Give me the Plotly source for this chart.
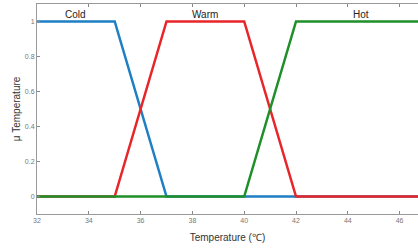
import plotly.graph_objects as go

cold_x = [32, 35, 37, 50]
cold_y = [1, 1, 0, 0]
warm_x = [32, 35, 37, 40, 42, 50]
warm_y = [0, 0, 1, 1, 0, 0]
hot_x = [32, 40, 42, 50]
hot_y = [0, 0, 1, 1]
labels = ["Cold", "Warm", "Hot"]
label_x = [33.5, 38.5, 44.5]
label_y = [1.04, 1.04, 1.04]
x_ticks = [32, 34, 36, 38, 40, 42, 44, 46]
y_ticks = [0, 0.2, 0.4, 0.6, 0.8, 1]

fig = go.Figure()
fig.add_trace(go.Scatter(x=cold_x, y=cold_y, mode="lines", line=dict(color="#1f7fc4", width=2.5)))
fig.add_trace(go.Scatter(x=warm_x, y=warm_y, mode="lines", line=dict(color="#e8262a", width=2.5)))
fig.add_trace(go.Scatter(x=hot_x, y=hot_y, mode="lines", line=dict(color="#1f8f2a", width=2.5)))
for t, x, y in zip(labels, label_x, label_y):
    fig.add_annotation(x=x, y=y, text=t, showarrow=False, font=dict(size=10, color="#222", family="Liberation Sans"))

fig.update_layout(
    width=418, height=249, showlegend=False,
    margin=dict(l=37, r=0, t=4, b=35),
    plot_bgcolor="white", paper_bgcolor="white",
    font=dict(family="Liberation Sans"),
)
fig.update_xaxes(range=[32, 46.71], tickvals=x_ticks, ticks="inside", ticklen=3, tickcolor="#888",
                 showline=True, linecolor="#999", linewidth=1, mirror="ticks", showgrid=False, zeroline=False,
                 automargin=False,
                 tickfont=dict(size=7, color="#777"),
                 title=dict(text="Temperature (℃)", font=dict(size=10, color="#333"), standoff=10))
fig.update_yaxes(range=[-0.1, 1.1], tickvals=y_ticks, ticktext=["0", "0.2", "0.4", "0.6", "0.8", "1"],
                 ticks="inside", ticklen=3, tickcolor="#888",
                 showline=True, linecolor="#999", linewidth=1, mirror=False, showgrid=False, zeroline=False,
                 automargin=False,
                 tickfont=dict(size=7, color="#777"),
                 title=dict(text="μ Temperature", font=dict(size=10, color="#333"), standoff=2))
fig.write_html("out.html", config={"displayModeBar": False},
               post_script="document.body.style.margin='0';")
